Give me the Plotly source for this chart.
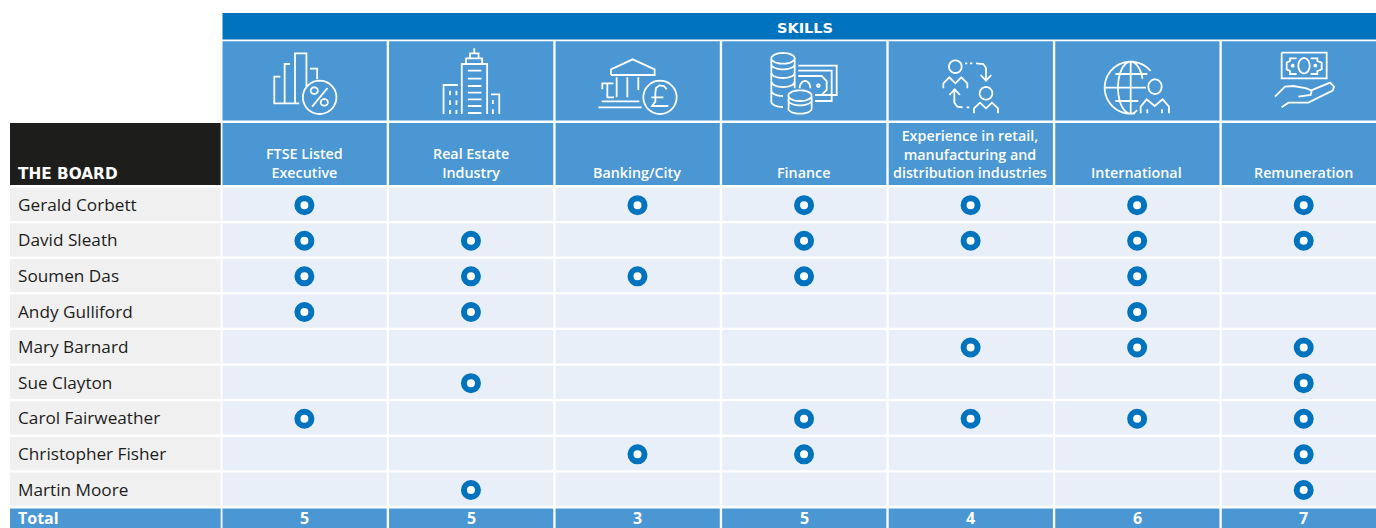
import math
import plotly.graph_objects as go

# ---------- data ----------
skills = ["FTSE Listed<br>Executive", "Real Estate<br>Industry", "Banking/City", "Finance",
          "Experience in retail,<br>manufacturing and<br>distribution industries",
          "International", "Remuneration"]
directors = ["Gerald Corbett", "David Sleath", "Soumen Das", "Andy Gulliford", "Mary Barnard",
             "Sue Clayton", "Carol Fairweather", "Christopher Fisher", "Martin Moore"]
gerald = [1, 0, 1, 1, 1, 1, 1]
david = [1, 1, 0, 1, 1, 1, 1]
soumen = [1, 1, 1, 1, 0, 1, 0]
andy = [1, 1, 0, 0, 0, 1, 0]
mary = [0, 0, 0, 0, 1, 1, 1]
sue = [0, 1, 0, 0, 0, 0, 1]
carol = [1, 0, 0, 1, 1, 1, 1]
christopher = [0, 0, 1, 1, 0, 0, 1]
martin = [0, 1, 0, 0, 0, 0, 1]
totals = [5, 5, 3, 5, 4, 6, 7]
matrix = [gerald, david, soumen, andy, mary, sue, carol, christopher, martin]

# ---------- layout constants ----------
W, H = 1376, 528
DARK, MID, LIGHT, GREY, BLACK = "#0073BF", "#4A97D4", "#E8EFF9", "#F0F0F0", "#1D1D1B"
COL0, COLW, CELLW = 222.5, 166.55, 164.2
ROW0, ROWH, CELLH = 187.7, 35.6, 33.3
FONT = "Open Sans"


def px(x):
    return x / W


def py(y):
    return 1 - y / H


shapes = []
annotations = []


def rect(x0, y0, x1, y1, color):
    shapes.append(dict(type="rect", xref="paper", yref="paper", layer="below",
                       x0=px(x0), x1=px(min(x1, W)), y0=py(y0), y1=py(min(y1, H)),
                       fillcolor=color, line=dict(width=0)))


def label(x, y, text, size, color="#FFFFFF", anchor="center", vanchor="middle", weight=400, family=FONT):
    annotations.append(dict(xref="paper", yref="paper", x=px(x), y=py(y), text=text, showarrow=False,
                            xanchor=anchor, yanchor=vanchor, align="center",
                            font=dict(family=family, size=size, color=color, weight=weight)))


def icon(xoff, sx, sy, lines=(), circles=(), arcs=()):
    """Draw a white line icon; coordinates are given in a local design space."""
    parts = []

    def T(p):
        return px(xoff + p[0] / sx), py(p[1] / sy)

    for ln in lines:
        pts = [T(p) for p in ln]
        parts.append("M" + " L".join(f"{a:.5f},{b:.5f}" for a, b in pts))
    for c in list(circles) + list(arcs):
        cx, cy, rx, ry = c[:4]
        a0, a1 = (c[4], c[5]) if len(c) > 4 else (0, 360)
        n = 48
        pts = [T((cx + rx * math.cos(math.radians(a0 + (a1 - a0) * i / n)),
                  cy + ry * math.sin(math.radians(a0 + (a1 - a0) * i / n)))) for i in range(n + 1)]
        parts.append("M" + " L".join(f"{a:.5f},{b:.5f}" for a, b in pts))
    shapes.append(dict(type="path", xref="paper", yref="paper", layer="below", path=" ".join(parts),
                       line=dict(color="#FFFFFF", width=1.8), fillcolor="rgba(0,0,0,0)"))


# ---------- table background ----------
rect(COL0, 13, W, 39.5, DARK)
rect(10, 123, 220.7, 185, BLACK)
for i in range(len(skills)):
    x0 = COL0 + COLW * i
    x1 = x0 + CELLW if i < len(skills) - 1 else W
    rect(x0, 41.3, x1, 120.5, MID)
    rect(x0, 123, x1, 185, MID)
    for r in range(len(directors)):
        rect(x0, ROW0 + ROWH * r, x1, ROW0 + ROWH * r + CELLH, LIGHT)
    rect(x0, ROW0 + ROWH * len(directors) + 0.5, x1, H, MID)
for r in range(len(directors)):
    rect(10, ROW0 + ROWH * r, 220.7, ROW0 + ROWH * r + CELLH, GREY)
rect(10, ROW0 + ROWH * len(directors) + 0.5, 220.7, H, MID)

# ---------- icons ----------
# 1 chart + percent
icon(0, 2.8, 3,
     lines=[[(785, 230), (768, 230), (768, 310), (838, 310)], [(812, 192), (797, 192), (797, 310)],
            [(826, 310), (826, 160), (858, 160), (858, 262)], [(868, 206), (888, 206), (888, 238)],
            [(917, 264), (874, 320)]],
     circles=[(895, 292, 47, 50), (880, 272, 10, 10), (908, 307, 10, 10)])
# 2 buildings
icon(0, 2.8, 3,
     lines=[[(1328, 145), (1328, 160)], [(1316, 175), (1316, 160), (1340, 160), (1340, 175)],
            [(1305, 192), (1305, 175), (1350, 175), (1350, 192)],
            [(1293, 342), (1293, 192), (1364, 192), (1364, 342)],
            [(1310, 212), (1348, 212)], [(1310, 236), (1348, 236)], [(1310, 258), (1348, 258)],
            [(1310, 278), (1348, 278)], [(1310, 298), (1348, 298)], [(1310, 318), (1348, 318)],
            [(1310, 339), (1348, 339)],
            [(1242, 342), (1242, 255), (1282, 255)],
            [(1260, 272), (1260, 286)], [(1278, 272), (1278, 286)], [(1260, 301), (1260, 315)],
            [(1278, 301), (1278, 315)], [(1260, 330), (1260, 342)], [(1278, 330), (1278, 342)],
            [(1375, 283), (1398, 283), (1398, 342)], [(1380, 300), (1380, 312)], [(1380, 328), (1380, 342)]])
# 3 bank + pound
icon(550, 3, 3,
     lines=[[(183, 225), (183, 208), (248, 178), (314, 208), (314, 225), (183, 225)],
            [(200, 232), (200, 292)], [(232, 232), (232, 292)], [(265, 232), (265, 270)],
            [(157, 268), (157, 250), (190, 250)], [(172, 250), (172, 292), (192, 292)],
            [(155, 304), (268, 304)], [(145, 322), (275, 322)],
            [(350, 268), (342, 258), (328, 256), (318, 264), (316, 280), (316, 305), (306, 318), (355, 318)],
            [(304, 292), (340, 292)]],
     circles=[(330, 292, 50, 50)])
# 4 coins + notes
icon(550, 3, 3,
     lines=[[(664, 175), (664, 305)], [(734, 175), (734, 265)],
            [(716, 290), (716, 325)], [(785, 290), (785, 325)],
            [(745, 197), (860, 197), (860, 285), (795, 285)],
            [(745, 212), (845, 212), (845, 303), (795, 303)],
            [(745, 228), (815, 228), (830, 243), (830, 270), (815, 285)]],
     circles=[(699, 175, 35, 16), (750, 287, 35, 16), (805, 257, 4, 4)],
     arcs=[(699, 192, 35, 16, 0, 180), (699, 218, 35, 16, 0, 180), (699, 245, 35, 16, 0, 180),
           (699, 272, 35, 16, 90, 180), (699, 305, 35, 16, 90, 180),
           (750, 300, 35, 16, 0, 180), (750, 325, 35, 16, 0, 180), (765, 265, 16, 22, 180, 360)])
# 5 people exchange
icon(550, 3, 3,
     lines=[[(1180, 265), (1180, 250), (1198, 232), (1216, 250), (1234, 232), (1252, 250), (1252, 265)],
            [(1245, 190), (1252, 190)], [(1260, 190), (1267, 190)],
            [(1278, 190), (1300, 192), (1308, 204), (1308, 240)], [(1292, 225), (1308, 242), (1324, 225)],
            [(1213, 270), (1213, 308), (1222, 320), (1238, 322)], [(1198, 285), (1214, 268), (1230, 285)],
            [(1250, 322), (1258, 322)],
            [(1272, 340), (1272, 325), (1290, 308), (1308, 325), (1326, 308), (1344, 325), (1344, 340)]],
     circles=[(1216, 200, 19, 19), (1308, 280, 19, 19)])
# 6 globe + person
icon(1040, 3, 3,
     lines=[[(272, 185), (272, 342)], [(195, 263), (318, 263)], [(226, 222), (322, 222)], [(226, 303), (295, 303)],
            [(302, 340), (302, 320), (320, 298), (344, 318), (368, 298), (387, 320), (387, 340)],
            [(322, 328), (322, 340)], [(366, 328), (366, 340)]],
     circles=[(345, 260, 20, 22)],
     arcs=[(272, 263, 78, 78, -40, -280), (272, 263, 38, 78, -90, -20),
           (272, 263, 38, 78, 60, 270)])
# 7 hand + banknote
icon(1040, 3, 3,
     lines=[[(725, 158), (860, 158), (860, 235), (725, 235), (725, 158)],
            [(770, 175), (750, 175), (750, 183), (740, 188), (740, 208), (750, 213), (750, 222), (770, 222)],
            [(812, 175), (832, 175), (832, 183), (845, 188), (845, 208), (832, 213), (832, 222), (812, 222)],
            [(705, 290), (735, 260), (760, 258), (800, 265), (815, 272), (812, 285), (775, 290)],
            [(812, 272), (870, 248), (882, 260), (878, 272), (805, 308), (745, 308), (725, 322)]],
     circles=[(792, 197, 17, 23), (758, 197, 3, 3), (826, 197, 3, 3)])

# ---------- text ----------
label(805, 27.5, "SKILLS", 14.5, weight=700, family="DejaVu Sans")
label(16, 173.5, "THE BOARD", 15.3, anchor="left", weight=700, family="DejaVu Sans")
for i, s in enumerate(skills):
    label(COL0 + CELLW / 2 + COLW * i - 0.5, 184.5, s, 14.3, vanchor="bottom", weight=600)
for r, name in enumerate(directors):
    label(16, ROW0 + CELLH / 2 + ROWH * r, name, 17.2, color=BLACK, anchor="left")
label(16, 518, "Total", 16, anchor="left", weight=700)
for i, t in enumerate(totals):
    label(COL0 + CELLW / 2 + COLW * i, 518, str(t), 16, weight=700)

# ---------- dots through the axes ----------
xs, ys = [], []
for r, row in enumerate(matrix):
    for c, v in enumerate(row):
        if v:
            xs.append(c)
            ys.append(r)

fig = go.Figure(go.Scatter(x=xs, y=ys, mode="markers", hoverinfo="skip", showlegend=False,
                           marker=dict(size=14, color="#FFFFFF", line=dict(color=DARK, width=6))))
cx0 = COL0 + CELLW / 2 - 0.2
cy0 = ROW0 + CELLH / 2 + 0.8
fig.update_layout(
    width=W, height=H, autosize=False,
    margin=dict(l=0, r=0, t=0, b=0),
    paper_bgcolor="#FFFFFF", plot_bgcolor="rgba(0,0,0,0)",
    xaxis=dict(visible=False, range=[-cx0 / COLW, (W - cx0) / COLW], fixedrange=True),
    yaxis=dict(visible=False, range=[(H - cy0) / ROWH, -cy0 / ROWH], fixedrange=True),
    shapes=shapes, annotations=annotations,
)
fig.write_html("out.html", config={"displayModeBar": False},
               post_script="document.body.style.margin='0';document.documentElement.style.overflow='hidden';")
